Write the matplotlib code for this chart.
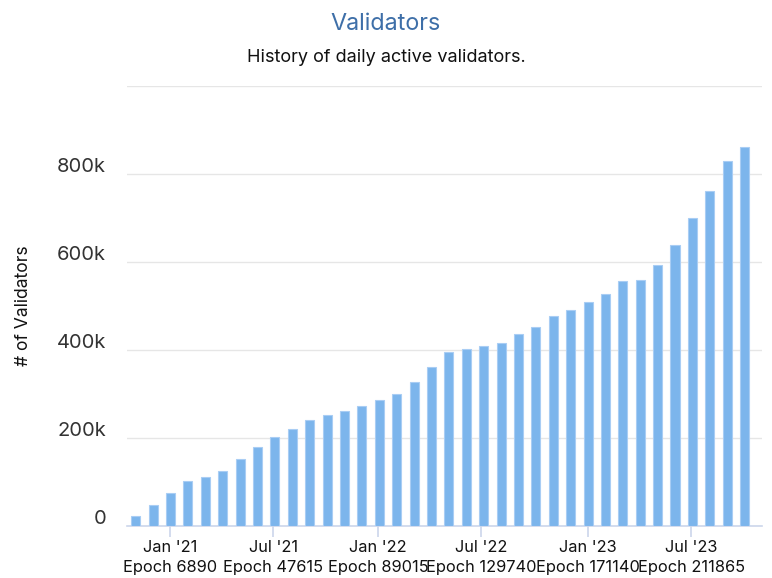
import numpy as np
import matplotlib.pyplot as plt
from matplotlib.transforms import ScaledTranslation

plt.rcParams['font.family'] = ['Inter', 'DejaVu Sans']

# monthly snapshots of active validators (thousands)
validators_k = [21, 46.5, 74, 101, 111, 125, 152, 179.5, 200.7, 220.5, 241, 251.7,
                261.6, 272, 286, 299.6, 327, 361, 395.4, 402, 409, 416, 436.5, 453,
                477.5, 491, 508, 528, 555.8, 559.6, 594, 638, 699.4, 761, 829, 860.6]
validators = np.array(validators_k) * 1000
x = np.arange(len(validators))

tick_pos = [1.97, 7.9, 13.93, 19.87, 25.98, 31.93]
tick_months = ["Jan '21", "Jul '21", "Jan '22", "Jul '22", "Jan '23", "Jul '23"]
tick_epochs = ["Epoch 6890", "Epoch 47615", "Epoch 89015", "Epoch 129740",
               "Epoch 171140", "Epoch 211865"]

fig = plt.figure(figsize=(7.72, 5.78), dpi=100)
ax = fig.add_axes([127/772, 1-525.7/578, 635/772, (525.7-86)/578])

ax.bar(x, validators, width=0.52, color='#7cb5ec', edgecolor='#a9cdf4', linewidth=0.8, zorder=3)

ax.set_xlim(-0.5, 36)
ax.set_ylim(0, 1000000)
ax.set_yticks([0, 200000, 400000, 600000, 800000, 1000000])
ax.set_yticklabels(['0', '200k', '400k', '600k', '800k', ''])
ax.grid(axis='y', color='#e6e6e6', linewidth=1, zorder=0)

ax.set_xticks(tick_pos)
ax.set_xticklabels([m + '\n' + e for m, e in zip(tick_months, tick_epochs)], linespacing=1.45)

for s in ['top', 'right', 'left']:
    ax.spines[s].set_visible(False)
ax.spines['bottom'].set_color('#ccd6eb')
ax.spines['bottom'].set_linewidth(1.2)

ax.tick_params(axis='x', length=8, width=1.2, color='#ccd6eb', labelsize=11.8, labelcolor='#111111', pad=2)
ax.tick_params(axis='y', length=0, labelsize=14.5, labelcolor='#333333', pad=15)

off = ScaledTranslation(0, 9/100, fig.dpi_scale_trans)
for lab in ax.get_yticklabels():
    lab.set_transform(lab.get_transform() + off)

ax.set_ylabel('# of Validators', fontsize=12.6, color='#111111')
ax.yaxis.set_label_coords(32/772, 1-306/578, transform=fig.transFigure)

fig.text(386/772, 1-24/578, 'Validators', ha='center', va='center', fontsize=16.8, color='#3e6fa8')
fig.text(386/772, 1-57/578, 'History of daily active validators.', ha='center', va='center',
         fontsize=13, color='#111111')

fig.savefig('out.png', dpi=100, facecolor='white')
